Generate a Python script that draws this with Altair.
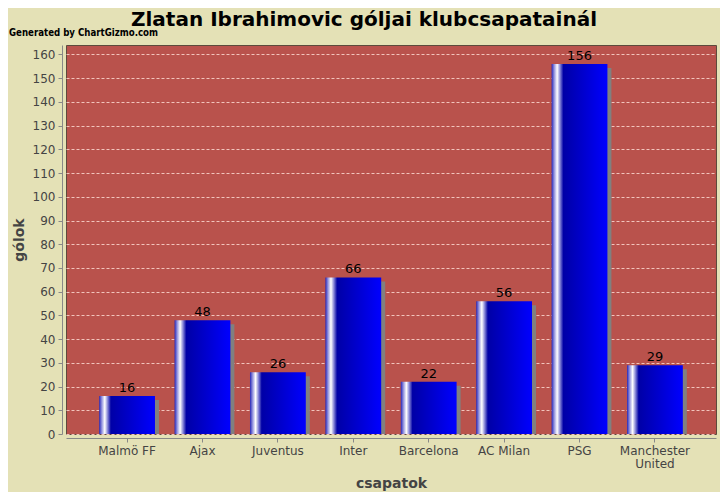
import altair as alt
import pandas as pd

teams = ["Malmö FF", "Ajax", "Juventus", "Inter", "Barcelona", "AC Milan", "PSG", "Manchester United"]
goals = [16, 48, 26, 66, 22, 56, 156, 29]
y_ticks = list(range(0, 161, 10))
title_text = ["Zlatan Ibrahimovic góljai klubcsapatainál"]
credit_text = ["Generated by ChartGizmo.com"]

df = pd.DataFrame({"csapat": teams, "gol": goals})

x_enc = alt.X(
    "csapat:N",
    sort=teams,
    scale=alt.Scale(paddingInner=0.26, paddingOuter=0.44),
    axis=alt.Axis(
        title="csapatok",
        labelAngle=0,
        labelExpr="datum.label == 'Manchester United' ? ['Manchester', 'United'] : datum.label",
        labelLineHeight=13,
        labelPadding=3,
        tickSize=4,
        offset=4,
        titleY=49,
        titleBaseline="alphabetic",
    ),
)
y_enc = alt.Y(
    "gol:Q",
    scale=alt.Scale(domain=[0, 164], nice=False),
    axis=alt.Axis(
        title="gólok",
        values=y_ticks,
        tickSize=4,
        labelPadding=3,
        offset=4,
        grid=True,
        gridColor="#F2C4BC",
        gridDash=[3, 2],
        gridWidth=1,
        titleX=-36,
        titleY=194.5,
    ),
)

base = alt.Chart(df).encode(x=x_enc, y=y_enc)

shadow = base.mark_bar(color="#808080", xOffset=4, yOffset=4, clip=True)

grad = alt.Gradient(
    gradient="linear",
    x1=0, x2=1, y1=0, y2=0,
    stops=[
        alt.GradientStop(offset=0.0, color="#2626b8"),
        alt.GradientStop(offset=0.05, color="#9a9ae0"),
        alt.GradientStop(offset=0.1, color="#ffffff"),
        alt.GradientStop(offset=0.15, color="#8a8ad8"),
        alt.GradientStop(offset=0.21, color="#0000a6"),
        alt.GradientStop(offset=0.55, color="#0000cc"),
        alt.GradientStop(offset=0.9, color="#0000f4"),
        alt.GradientStop(offset=1.0, color="#0000ff"),
    ],
)
bars = base.mark_bar(color=grad)

labels = base.mark_text(
    baseline="alphabetic", dy=-4, fontSize=13, color="#000000", font="DejaVu Sans"
).encode(text="gol:Q")

credit = alt.Chart(pd.DataFrame({"t": credit_text})).mark_text(
    align="left", baseline="alphabetic", fontSize=9.6, fontWeight="bold",
    font="DejaVu Sans Condensed", color="#000000",
).encode(x=alt.value(-57), y=alt.value(-9), text="t:N")

title = alt.Chart(pd.DataFrame({"t": title_text})).mark_text(
    align="center", baseline="alphabetic", fontSize=20, fontWeight="bold",
    font="DejaVu Sans", color="#000000",
).encode(x=alt.value(298), y=alt.value(-19), text="t:N")

chart = alt.layer(shadow, bars, labels, credit, title).properties(
    width=650,
    height=389,
    autosize=alt.AutoSizeParams(type="none"),
    padding={"left": 58, "top": 37, "right": 4, "bottom": 58},
    background="#E4E1B6",
).configure_view(
    fill="#B9524C", stroke="#5C4A3C", strokeWidth=1
).configure_axis(
    domainColor="#888888",
    tickColor="#888888",
    labelColor="#444444",
    labelFont="DejaVu Sans",
    labelFontSize=12,
    titleColor="#444444",
    titleFont="DejaVu Sans",
    titleFontSize=14,
    titleFontWeight="bold",
)

chart.save("out.html", embed_options={"renderer": "svg", "actions": False})
